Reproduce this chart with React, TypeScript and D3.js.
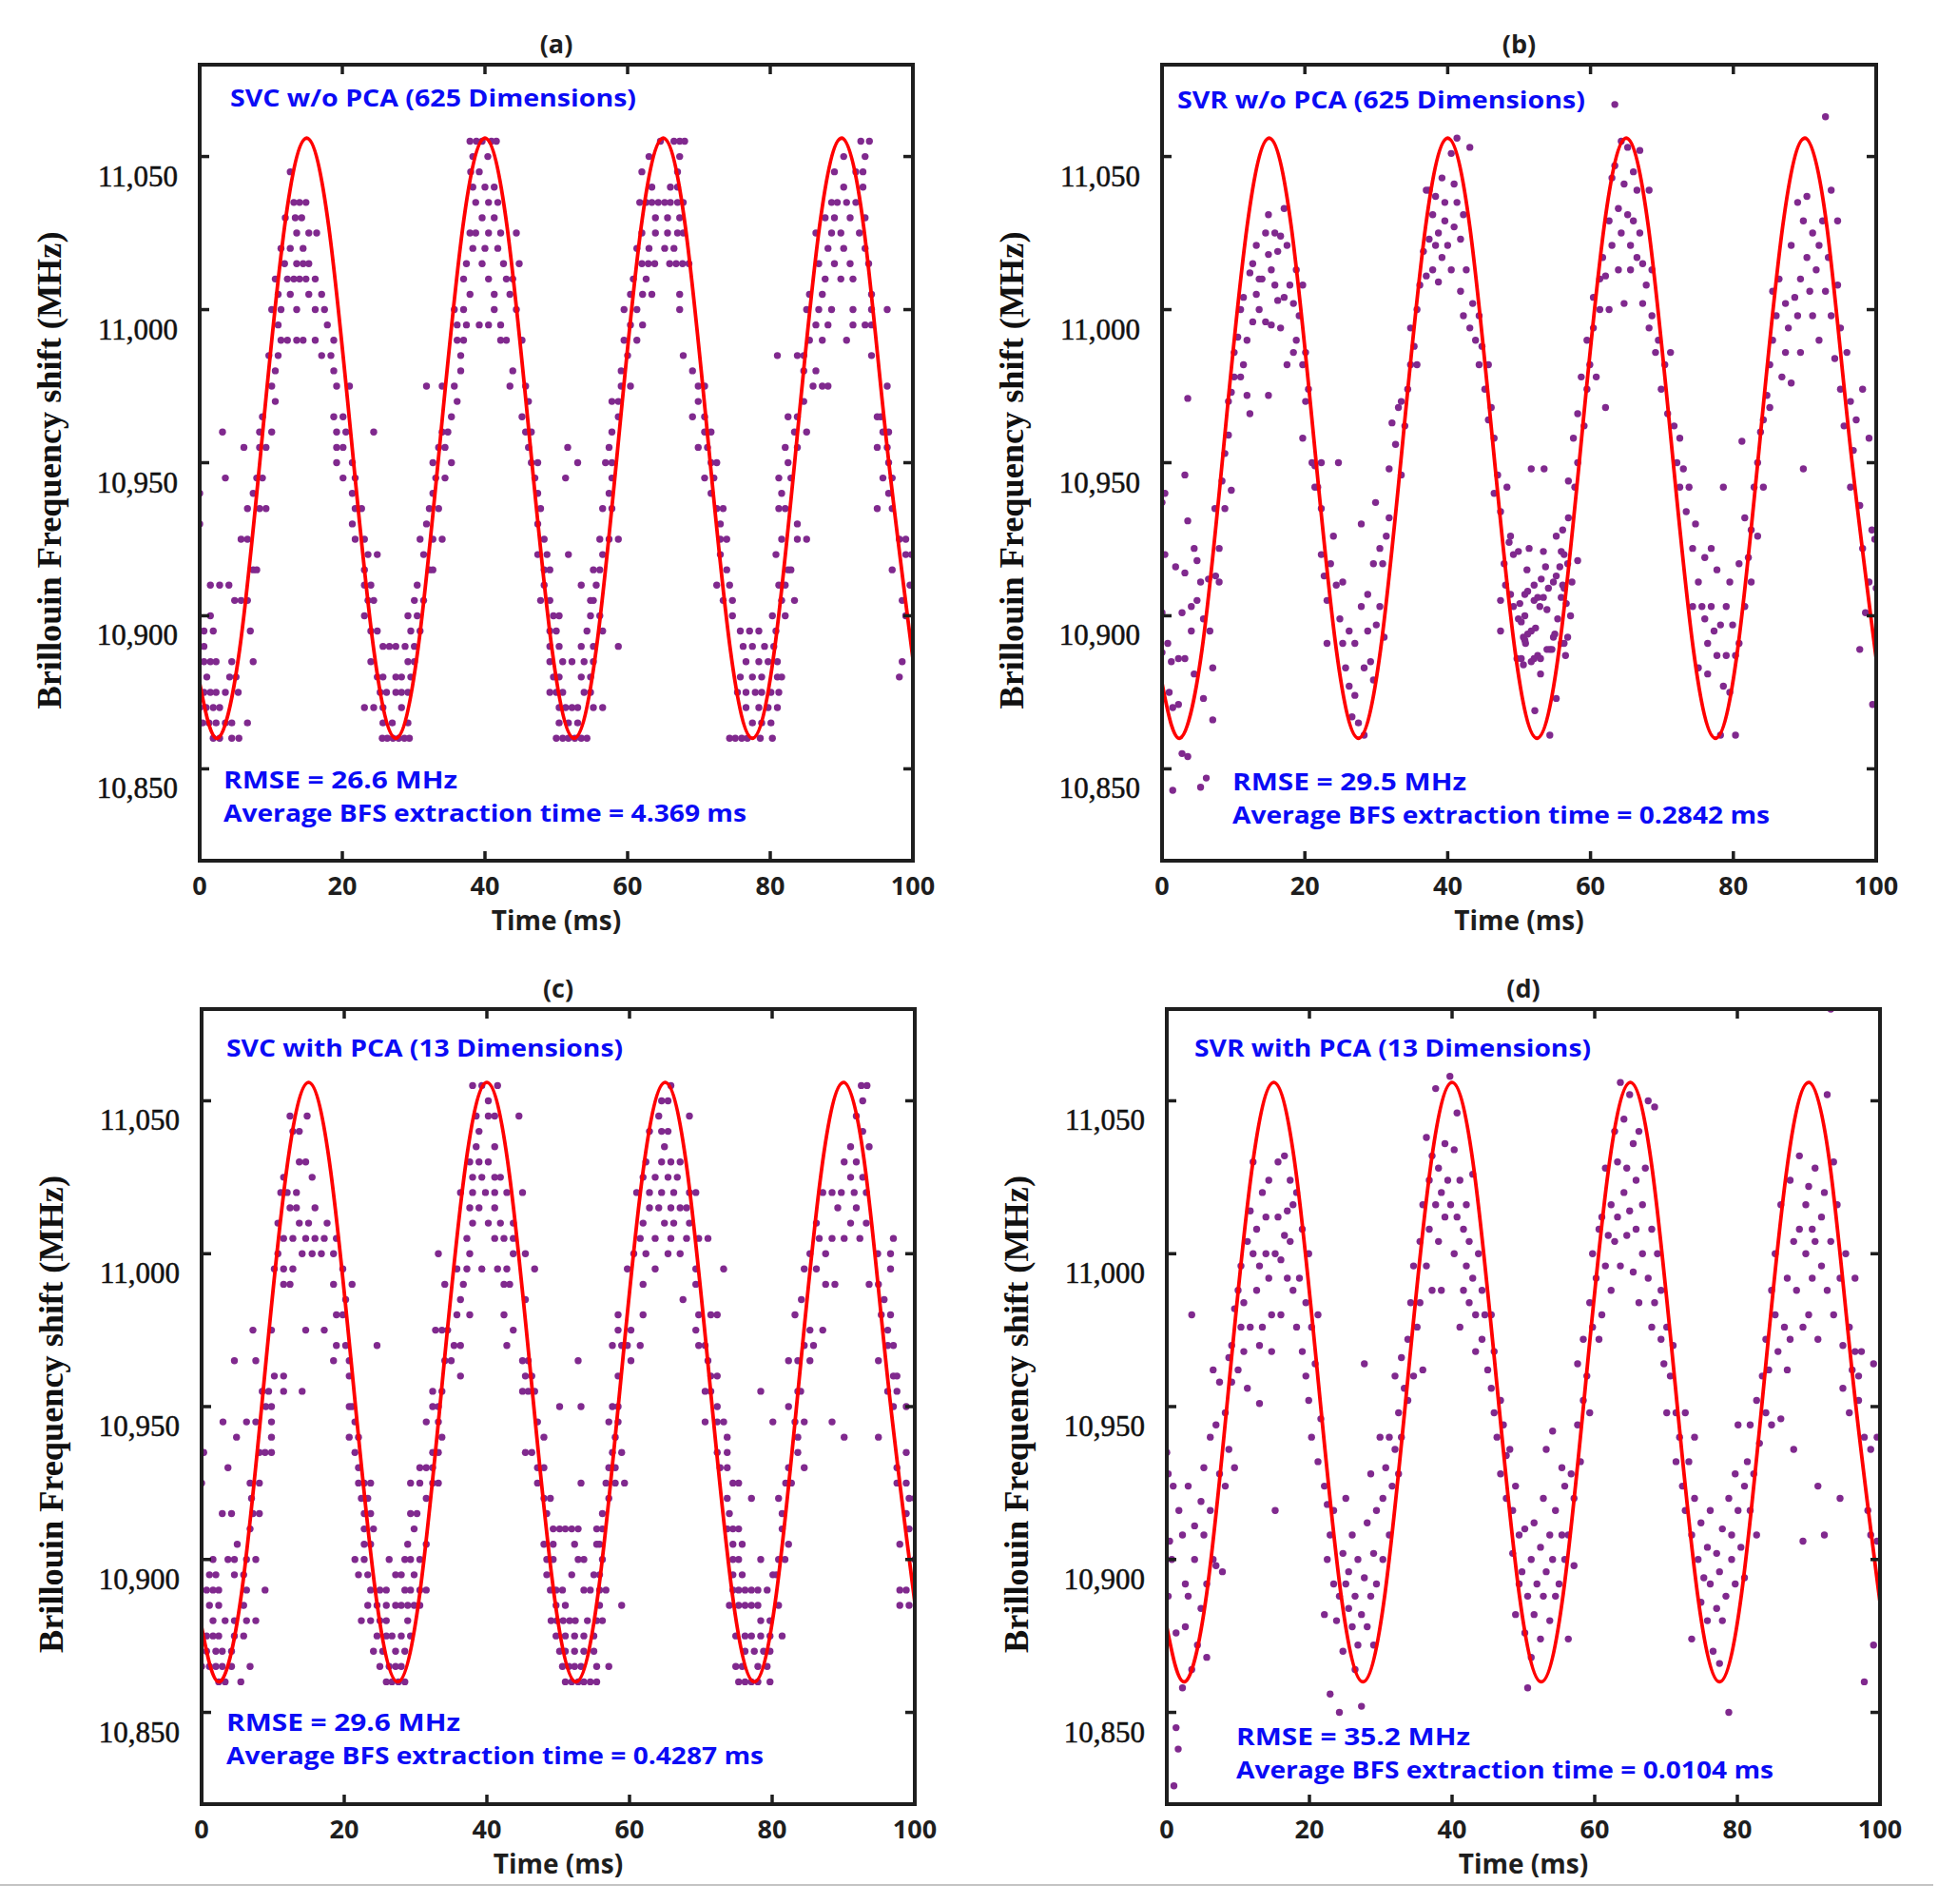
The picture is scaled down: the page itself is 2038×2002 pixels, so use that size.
import * as d3 from 'd3'

// axis ticks
const timeTicks = [0, 20, 40, 60, 80, 100]
const bfsTicks = [10850, 10900, 10950, 11000, 11050]
const timeDomain = [0, 100]
const bfsDomain = [10820, 11080]

// fitted reference curve, read at peaks / troughs / mid points
const fitTimes = [0, 2.5, 5.6, 8.75, 11.9, 15, 18.1, 21.25, 24.4, 27.5, 30.6, 33.75, 36.9, 40, 43.1, 46.25, 49.4, 52.5, 55.6, 58.75, 61.9, 65, 68.1, 71.25, 74.4, 77.5, 80.6, 83.75, 86.9, 90, 93.1, 96.25, 100]
const fitValues = [10878, 10860, 10889, 10958, 11027, 11056, 11027, 10958, 10889, 10860, 10889, 10958, 11027, 11056, 11027, 10958, 10889, 10860, 10889, 10958, 11027, 11056, 11027, 10958, 10889, 10860, 10889, 10958, 11027, 11056, 11027, 10958, 10886]

// (a) SVC w/o PCA: classified levels (MHz) and the times (ms) where they occur
const svcNoPcaRows: [number, number[]][] = [
  [11055, [37.9, 38.8, 39.6, 40.9, 41.6, 64.6, 66.5, 67.3, 68, 92.7, 93.9]],
  [11050, [38.3, 40.4, 63, 67.3, 90.3, 93.3]],
  [11045, [12.7, 38, 39.2, 62, 67, 89, 92, 93]],
  [11040, [38.3, 40, 41.3, 63.4, 66, 67, 90.3, 93]],
  [11035, [13.2, 14, 14.9, 38.7, 40.5, 41.8, 61.7, 62.6, 63.4, 64.3, 65.2, 66, 67, 67.8, 88.6, 89.4, 90.7, 92]],
  [11030, [12, 13.4, 14.3, 39.6, 41.3, 63.9, 65.6, 67.3, 87.7, 89, 91.2, 93.3]],
  [11025, [13.6, 15.3, 16.4, 37.9, 38.7, 40.5, 42.2, 44.4, 62, 63.9, 65.6, 67, 67.8, 86.4, 88.6, 89.9, 92.5]],
  [11020, [11.4, 12.7, 14.5, 38.3, 40, 41.8, 61.3, 63, 65.2, 66.5, 88.1, 90.3, 93.3]],
  [11015, [11.9, 13.6, 14.5, 15.3, 37.4, 39.6, 42.6, 44.8, 62, 62.9, 63.8, 65.9, 66.8, 67.7, 68.6, 86.8, 89, 91.2, 93.8]],
  [11010, [10.6, 12.3, 13.2, 14, 14.9, 16.2, 37, 40.5, 43, 43.9, 60.8, 62.6, 87.7, 89.9, 91.6]],
  [11005, [11, 12.7, 15.3, 17.1, 37.9, 41.3, 43.5, 60.4, 62.1, 63.4, 67.3, 85.5, 87.3, 94.2]],
  [11000, [10.1, 11.4, 13.6, 16.2, 17.5, 35.7, 37, 41.3, 44.4, 59.5, 61.3, 67.3, 85.1, 86.8, 88.6, 91.6, 94.2, 96.4]],
  [10995, [11, 17.9, 36.1, 37.4, 39.2, 40.5, 42.2, 60.4, 62.1, 86.4, 88.1, 91.6, 93.3, 94.2]],
  [10990, [11.4, 12.3, 13.6, 14.5, 16.2, 18.8, 36.1, 37, 42.2, 43, 45.2, 59.5, 61.3, 85.5, 87.3, 90.7]],
  [10985, [9.7, 11, 17.1, 18.4, 36.6, 60, 67.8, 81, 83.8, 84.7, 94.2]],
  [10980, [10.6, 18.8, 36.6, 43.9, 59.1, 69.1, 84.7, 86.4]],
  [10975, [10.1, 19.2, 21, 31.8, 34, 35.7, 43.5, 45.7, 59.1, 60.4, 69.9, 70.8, 86, 87.3, 88.1, 96.4]],
  [10970, [10.6, 36.1, 46.1, 57.8, 58.7, 69.9, 84.7]],
  [10965, [8.8, 18.8, 20.1, 35.3, 45.2, 58.7, 69.1, 70.8, 82.5, 83.8, 95, 95.5]],
  [10960, [3.2, 8.4, 10.1, 19.2, 20.5, 24.4, 34, 34.8, 45.7, 46.5, 57.8, 70.8, 71.7, 83.4, 85.1, 95.8, 96.6]],
  [10955, [6.2, 8.4, 9.3, 19.2, 20.1, 33.5, 34.4, 46.1, 51.6, 57.4, 69.9, 71.2, 82.1, 83.8, 95, 96.4]],
  [10950, [19.2, 21.4, 32.7, 35.3, 46.5, 47.4, 53, 56.9, 57.8, 71.7, 72.5, 82.5, 96.6]],
  [10945, [3.6, 8, 8.8, 20.1, 21.8, 33.1, 34.4, 47, 51.3, 57.8, 70.8, 72.1, 81.2, 82.9, 95.8, 97.1]],
  [10940, [0, 7.5, 21.4, 32.7, 47.4, 57.4, 71.7, 81.6, 96.6]],
  [10935, [6.7, 8.4, 9.3, 21.8, 22.7, 32.2, 33.5, 47.8, 56.5, 57.8, 72.5, 73.4, 81.2, 82.1, 95, 97.1]],
  [10930, [0, 21.4, 31.8, 47.4, 73, 83.8]],
  [10925, [5.8, 6.7, 21.8, 23.1, 30.9, 32.7, 34, 48.3, 56.1, 57.4, 58.7, 73, 73.9, 81.6, 83.8, 85.1, 98.1, 99]],
  [10920, [23.6, 24.9, 31.4, 47.4, 48.7, 51.7, 56.5, 73, 80.8, 99, 99.8]],
  [10915, [7.5, 8, 23.1, 32.2, 32.7, 48.3, 49.1, 55.2, 56.1, 73.9, 82.5, 82.9, 97.1]],
  [10910, [1.5, 2.8, 4.1, 23.1, 24, 30.5, 48.3, 53.5, 55.6, 72.5, 74.3, 81.2, 82.1, 99.6]],
  [10905, [4.9, 5.8, 6.7, 23.6, 24.4, 30.1, 31.4, 47.8, 49.1, 54.8, 55.2, 73.4, 74.7, 81.6, 83.4, 98.5]],
  [10900, [1.5, 23.1, 29.2, 30.5, 49.6, 50.4, 54.8, 56.1, 74.7, 80.3, 82.1, 99]],
  [10895, [0.6, 1.9, 7.1, 24, 24.9, 29.6, 30.9, 49.1, 50, 54.3, 56.5, 75.8, 77.1, 78.4, 80.8]],
  [10890, [0.6, 25.7, 26.6, 27.5, 28.8, 30.1, 49.1, 50.4, 53.5, 55.2, 58.7, 76.2, 77.5, 79.2, 80.5]],
  [10885, [0.6, 1.5, 2.3, 4.5, 7.5, 24, 29.2, 30.1, 49.1, 50.9, 52.2, 53.9, 55.2, 76.6, 78.4, 79.7, 81, 98.5]],
  [10880, [1, 4.2, 5.1, 24.9, 25.7, 27.5, 28.3, 29.6, 49.6, 50.4, 53.5, 54.8, 75.8, 77.5, 78.8, 81, 81.6, 98.1]],
  [10875, [0.6, 1.5, 2.3, 3.6, 5.4, 25.3, 26.2, 27.5, 28.3, 29.2, 49.1, 50, 50.9, 53.9, 54.8, 75.4, 76.6, 77.9, 78.8, 80.1, 81.2]],
  [10870, [0, 0.9, 1.9, 2.8, 23.1, 24.4, 25.7, 28.3, 50.4, 51.3, 52.2, 53, 55.2, 56.5, 76.6, 78.4, 79.7, 81]],
  [10865, [0.4, 1.3, 2.3, 3.6, 4.5, 6.7, 25.7, 27, 29.2, 50.4, 51.7, 53, 77.5, 78.8, 80.1]],
  [10860, [1.9, 2.8, 4.5, 5.5, 25.6, 26.3, 27.1, 27.9, 28.7, 29.4, 50, 50.9, 51.7, 52.6, 53.5, 54.3, 74.3, 75.1, 76, 76.8, 78.6, 80.3]],
]

// (c) SVC with PCA
const svcPcaRows: [number, number[]][] = [
  [11055, [38, 39.3, 41.5, 65.8, 92.5, 93.3]],
  [11050, [40.2, 64.5, 65.4, 92.7]],
  [11045, [12.4, 14.8, 38.5, 40.2, 41.1, 44.5, 64.1, 68.4, 91.8]],
  [11040, [12.8, 13.7, 38.9, 62.8, 64.5, 65.4, 92.7]],
  [11035, [38.5, 41.1, 64.9, 91, 93.6]],
  [11030, [13.7, 14.6, 37.6, 38.9, 40.2, 62.3, 64.5, 65.8, 67.1, 90.1, 91.8]],
  [11025, [11.5, 15.5, 38, 39.3, 41.1, 41.9, 61.9, 63.6, 65.4, 66.7, 91, 92.7]],
  [11020, [11.1, 12, 13.3, 36.3, 38, 39.8, 41.1, 42.8, 45, 61, 62.8, 64.5, 66.2, 68.4, 69.3, 87.1, 88.4, 89.7, 91.5, 93.2]],
  [11015, [12.4, 13.3, 15.9, 37.6, 38.9, 41.1, 62.8, 64.1, 65.8, 67.1, 68, 89.2, 91.8]],
  [11010, [10.7, 13.7, 15, 17.6, 38, 40.2, 41.9, 43.7, 61.9, 64.9, 66.2, 68.4, 86.2, 91, 93.2]],
  [11005, [11.5, 12.8, 14.6, 15.9, 17.2, 18.9, 37.2, 41.1, 42.4, 43.7, 61.5, 63.6, 65.8, 68, 69.7, 71, 86.6, 88.4, 90.1, 92.3, 97]],
  [11000, [10.7, 14.1, 15.5, 16.8, 18.5, 33.2, 37.6, 43.7, 45.4, 60.6, 62.3, 65.4, 67.1, 85.3, 87.5, 94.8, 96.6]],
  [10995, [10.2, 11.5, 12.8, 19.8, 35.8, 37.2, 39.3, 41.5, 42.8, 46.7, 59.7, 63.6, 69.3, 73.2, 84.5, 86.2, 96.6]],
  [10990, [11.5, 12.4, 18.5, 21.1, 34.1, 36.7, 42.4, 43.2, 61.9, 69.3, 87.5, 88.8, 93.6, 94.9]],
  [10985, [20.2, 36.3, 45.4, 67.5, 84.1, 95.7]],
  [10980, [18.9, 19.8, 35.8, 37.6, 42.4, 58.4, 61.9, 69.7, 71.4, 72.3, 83.2, 95.3, 96.6]],
  [10975, [7.2, 9.8, 14.6, 17.2, 32.8, 33.7, 34.5, 43.7, 58.4, 60.2, 69.3, 85.3, 87.1, 96.2]],
  [10970, [18.9, 20.2, 24.6, 35.4, 36.3, 42.8, 57.6, 58.9, 59.7, 61.5, 69.7, 70.6, 84.5, 85.8, 96.2, 97]],
  [10965, [4.6, 7.6, 18.5, 20.7, 34.1, 35, 45, 45.8, 52.8, 60.2, 71, 82.3, 83.6, 85.3, 94.9]],
  [10960, [10.2, 11.5, 20.7, 36.3, 45.4, 46.3, 58.4, 71.4, 72.3, 97, 97.5]],
  [10955, [8.5, 9.4, 11.5, 14.1, 32.4, 33.7, 45, 45.8, 46.7, 70.6, 71.4, 78.4, 83.6, 84, 96.2, 97.5]],
  [10950, [9, 9.8, 20.7, 21.1, 32.4, 33.2, 50.2, 53.2, 57.6, 58.4, 72.3, 82.3, 97, 98.8]],
  [10945, [3, 6.3, 7.6, 9.8, 21.5, 31.5, 33.2, 47.1, 57.1, 58.4, 70.6, 72.3, 73.2, 80.1, 83.2, 84.5, 88.4]],
  [10940, [4.9, 9.8, 20.7, 22, 33.7, 48, 58, 73.7, 83.6, 90.1, 94.9]],
  [10935, [0.3, 8.1, 8.9, 9.8, 21.5, 32.4, 33.2, 45.4, 46.3, 57.6, 58.9, 72.3, 73.7, 83.6, 98.8]],
  [10930, [3.7, 22, 30.6, 31.5, 32.4, 47.1, 48, 57.1, 58, 72.7, 73.7, 82.3, 84.5, 97.5]],
  [10925, [0, 6.8, 8.1, 22, 22.8, 23.7, 29.3, 30.6, 32.4, 33.2, 47.1, 53.2, 56.7, 58, 59.3, 74.5, 75.3, 81.9, 82.7, 97.5, 98.8]],
  [10920, [7, 22.4, 23.3, 31.5, 48, 48.9, 57.1, 73.7, 77.1, 80.9, 99.2, 100]],
  [10915, [2.9, 4.2, 7.2, 8.1, 22.8, 23.7, 29.3, 30.2, 48.4, 56.2, 74, 81.4, 98.8]],
  [10910, [6.8, 22.8, 24.1, 29.8, 49.3, 50.2, 51, 51.9, 52.8, 55.4, 56.2, 73.7, 74.5, 75.3, 81.4, 99.2]],
  [10905, [5, 22.8, 23.7, 28.9, 31.5, 48, 49.3, 52.3, 55.4, 55.8, 74.5, 75.8, 82.3, 97.9]],
  [10900, [1.6, 3.7, 4.6, 6.3, 7.6, 21.5, 22.8, 26.3, 28.5, 29.3, 30.6, 48.4, 49.3, 52.8, 53.6, 56.2, 74.5, 75.3, 78.4, 80.9, 81.8, 100]],
  [10895, [1.1, 2, 4.6, 5.9, 22, 23.3, 27.2, 28, 29.8, 48.4, 51.9, 55, 55.8, 74.5, 75.8, 80.1, 80.6]],
  [10890, [0.7, 1.6, 2.4, 6.3, 8.9, 23.7, 25, 25.9, 28.5, 29.3, 30.6, 31.5, 48.9, 49.7, 50.6, 53.6, 54.5, 55.8, 56.7, 74.5, 75.3, 76.2, 77.1, 78, 79.3, 97.9, 98.8]],
  [10885, [1.1, 2.4, 5.9, 23.3, 24.6, 25.9, 27.2, 28, 28.9, 29.8, 30.6, 49.7, 51, 55.8, 58.9, 74, 75.3, 76.2, 77.1, 78, 80.9, 97.9, 99.2]],
  [10880, [1.6, 3.3, 4.6, 6.3, 7.6, 22.4, 23.7, 25, 25.9, 28.9, 49, 49.8, 50.7, 51.6, 52.4, 54.1, 55.4, 56.2, 78.4, 79.7]],
  [10875, [0.7, 1.6, 2.4, 4.6, 5.9, 24.6, 25.9, 26.7, 28, 29.3, 49.7, 51, 52.3, 53.6, 55, 74.9, 76.2, 77.1, 78.4, 79.7, 81.4]],
  [10870, [0.7, 2, 2.9, 4.2, 24.1, 25.4, 27.2, 28.5, 50.2, 51, 52.3, 53.6, 55, 76.2, 77.5, 78.8, 79.7]],
  [10865, [0, 1.1, 2, 2.9, 4.2, 6.8, 25, 26.3, 27.2, 28, 50.6, 51.5, 52.3, 53.2, 55.4, 57.1, 74.9, 75.8, 78, 79.3]],
  [10860, [2.4, 3.3, 5.5, 25.9, 26.7, 27.6, 28.5, 51, 51.9, 52.8, 53.6, 54.5, 55.4, 75.3, 76.2, 77.1, 78, 79.7]],
]

// (b) SVR w/o PCA: [time ms, BFS MHz]
const svrNoPca: [number, number][] = [
  [0, 10937], [0.4, 10940], [0.4, 10920], [0, 10901], [0, 10888], [0.8, 10891], [1.3, 10885], [1, 10875], [1.5, 10870], [1.9, 10916],
  [2.3, 10886], [2.3, 10871], [2.8, 10901], [2.8, 10855], [3.2, 10886], [3.2, 10914], [3.6, 10854], [3.6, 10971], [3.2, 10946], [4.1, 10903],
  [4.1, 10895], [4.5, 10922], [4.5, 10881], [4.9, 10918], [4.9, 10905], [5.4, 10911], [5.4, 10844], [5.8, 10899], [5.8, 10873], [6.2, 10847],
  [6.5, 10912], [6.7, 10895], [7.1, 10866], [7.1, 10883], [7.4, 10935], [7.5, 10913], [8, 10911], [8, 10922], [1.5, 10843], [3.6, 10931],
  [8.4, 10944], [8.8, 10935], [8.8, 10953], [9.3, 10959], [9.3, 10970], [9.7, 10941], [9.7, 10973], [10.1, 10986], [10.1, 10978], [10.6, 10991],
  [11, 10978], [11, 11000], [11.4, 10982], [11.4, 11004], [11.9, 10990], [11.9, 10972], [12.3, 11012], [12.3, 10966], [12.7, 10996], [12.7, 11015],
  [13.2, 11005], [13.2, 11021], [13.6, 11000], [13.6, 11010], [14, 11010], [14.5, 11025], [14.5, 10996], [14.9, 11031], [14.9, 10972], [14.9, 11018],
  [15.3, 11013], [15.3, 10995], [15.8, 11025], [15.8, 11008], [16.2, 11019], [16.2, 11003], [16.6, 11024], [16.6, 10994], [17.1, 11033], [17.1, 11004],
  [17.5, 11021], [17.5, 10982], [17.9, 11008], [18.4, 11002], [18.4, 10986], [18.8, 11013], [18.8, 10990], [19.2, 10998], [19.7, 11008], [19.7, 10982],
  [20.1, 10970], [20.1, 10986], [20.5, 10974], [19.7, 10958], [21, 10950], [21.4, 10942], [21.4, 10949], [21.8, 10942], [22.3, 10950],
  [22.3, 10935], [22.3, 10920], [22.7, 10913], [23.1, 10891], [23.1, 10905], [23.6, 10917], [24, 10926], [24.4, 10910], [24.7, 10950], [24.9, 10899],
  [25.3, 10911], [25.3, 10891], [25.7, 10883], [26.2, 10877], [26.2, 10895], [26.6, 10867], [27, 10874], [27, 10891], [27.5, 10865], [27.9, 10903],
  [27.9, 10930], [28.3, 10883], [28.3, 10861], [28.8, 10907], [28.8, 10895], [29.2, 10885], [29.6, 10879], [29.6, 10917], [30, 10897], [29.9, 10937],
  [30.5, 10903], [30.5, 10922], [30.9, 10917], [31.1, 10893], [31.4, 10926], [31.8, 10948], [31.8, 10932], [32.2, 10963], [32.7, 10956], [33.1, 10968],
  [33.5, 10946], [33.5, 10970], [34, 10962], [34.4, 10974], [34.8, 10982], [34.8, 10994], [35.3, 10988], [35.7, 10982], [35.7, 11000], [36.1, 11008],
  [36.6, 11019], [37, 11011], [37, 11039], [37.4, 11023], [37.4, 11039], [37.9, 11031], [37.9, 11013], [38.3, 11021], [38.3, 11037], [38.7, 11025],
  [38.7, 11009], [39.2, 11043], [39.2, 11017], [39.6, 11029], [39.6, 11035], [40, 11021],
  [40.5, 11051], [40.5, 11013], [40.9, 11041], [40.9, 11027], [41.3, 11056], [41.3, 11035], [41.8, 11023], [41.8, 11006], [42.2, 11031], [42.2, 10998],
  [42.6, 11013], [43.1, 11053], [43.1, 10994], [43.5, 11002], [43.9, 10990], [44.4, 10998], [44.4, 10982], [44.8, 10988], [45.2, 10974], [45.7, 10982],
  [45.7, 10964], [46.1, 10968], [46.5, 10958], [46.5, 10940], [47, 10946], [47.4, 10934], [48.3, 10942], [51.7, 10948], [52.2, 10869], [53.5, 10948],
  [54.3, 10861], [55.2, 10873], [56.1, 10928], [56.9, 10944], [56.9, 10932], [57.6, 10958], [57.8, 10942],
  [48.8, 10926], [55.2, 10926], [48.6, 10924], [49.9, 10921], [51.4, 10922], [49.2, 10920], [53.4, 10921], [55.9, 10921], [56.3, 10920], [58.2, 10918],
  [47.9, 10917], [56.8, 10917], [53.7, 10916], [55.7, 10916], [51.1, 10915], [55.2, 10913], [53.1, 10912], [54.8, 10911], [48.1, 10910], [52.1, 10910],
  [56.1, 10910], [54.1, 10909], [56.3, 10909], [48.8, 10907], [51.2, 10908], [50.8, 10907], [52.6, 10906], [53.4, 10906], [47.4, 10905], [55.9, 10906],
  [52.1, 10905], [50.1, 10904], [49.2, 10903], [56.6, 10904], [52.9, 10903], [53.9, 10902], [50.8, 10900], [49.9, 10899], [57.2, 10900], [55.4, 10899],
  [50.3, 10898], [47.4, 10895], [52.3, 10896], [51.7, 10895], [51.2, 10894], [55, 10894], [50.6, 10893], [54.8, 10893], [50.8, 10892], [56.8, 10893],
  [55.9, 10891], [56.3, 10891], [54.3, 10889], [54.6, 10889], [49.7, 10886], [50.3, 10886], [52.6, 10887], [52.1, 10886], [53, 10886], [50.6, 10884],
  [53, 10881], [53.9, 10889], [56.5, 10887], [51.7, 10885], [50.9, 10891],
  [57.4, 10911], [58.2, 10966], [58.2, 10950], [58.7, 10978], [59.1, 10962], [59.5, 10990], [59.5, 10974], [59.9, 10982], [60.4, 11004], [60.4, 10994],
  [60.8, 10978], [61.3, 11010], [61.3, 11000], [61.7, 11017], [62.1, 11011], [62.1, 10968], [62.6, 11029], [62.6, 11000], [63, 11043], [63, 11021],
  [63.4, 11047], [63.4, 11067], [63.9, 11033], [63.9, 11013], [64.3, 11055], [64.3, 11025], [64.7, 11041], [64.7, 11002],
  [65.2, 11031], [65.2, 11053], [65.6, 11021], [65.6, 11013], [66, 11045], [66, 11029], [66.5, 11039], [66.5, 11017], [66.9, 11025], [66.9, 11052],
  [67.3, 11015], [67.3, 11002], [67.8, 11008], [68.2, 11039], [68.2, 10994], [68.6, 10998], [68.6, 11013], [69.1, 10986], [69.5, 10990], [69.9, 10974],
  [70.4, 10982], [70.8, 10966], [71.2, 10986], [71.7, 10962], [72.1, 10950], [72.5, 10942], [72.5, 10958], [73, 10948], [73.4, 10934], [73.8, 10942],
  [74.3, 10922], [74.3, 10903], [74.7, 10930], [75.1, 10883], [75.1, 10911], [75.6, 10903], [76, 10899], [76, 10919], [76.4, 10891], [76.4, 10881],
  [76.9, 10903], [76.9, 10922], [77.3, 10895], [77.7, 10887], [77.7, 10915], [78.2, 10861], [78.2, 10897],
  [78.6, 10877], [78.6, 10942], [79, 10903], [79, 10887], [79.5, 10911], [79.5, 10875], [79.9, 10897], [80.3, 10861], [80.3, 10887], [80.8, 10891],
  [80.8, 10917], [81.2, 10957], [81.6, 10932], [81.6, 10903], [82.1, 10919], [82.5, 10928], [82.5, 10911], [82.9, 10942], [83.4, 10926], [83.4, 10950],
  [83.8, 10960], [84.2, 10942], [84.2, 10964], [84.7, 10972], [85.1, 10982], [85.1, 10968], [85.5, 11006], [85.5, 10990], [86, 10998], [86.4, 11010],
  [86.8, 10978], [87.3, 11002], [87.3, 10986], [87.7, 10994], [88.1, 10976], [88.1, 11021], [88.6, 11004], [89, 11035], [89, 10998], [89.4, 11010],
  [89.4, 10986], [89.8, 10948], [89.8, 11029],
  [90.3, 11017], [90.3, 11037], [90.7, 11006], [91.1, 10998], [91.1, 11025], [91.6, 11013], [92, 11021], [92, 10990], [92.5, 11029], [92.9, 11063],
  [92.9, 11006], [93.3, 11017], [93.7, 10998], [93.7, 11039], [94.2, 10984], [94.6, 11029], [94.6, 11008], [95, 10974], [95, 10994], [95.5, 10962],
  [95.9, 10986], [96.4, 10970], [96.4, 10942], [96.8, 10954], [97.2, 10964], [97.7, 10936], [98.1, 10974], [98.1, 10922], [98.5, 10901], [99, 10958],
  [99, 10911], [99.4, 10928], [99.5, 10871], [99.8, 10925], [100, 10909], [97.7, 10889],
]

// (d) SVR with PCA: [time ms, BFS MHz]
const svrPca: [number, number][] = [
  [0, 10935], [0.2, 10928], [0.2, 10888], [0.4, 10906], [0.7, 10900], [0.9, 10924], [1.3, 10876], [1.3, 10845], [1.6, 10838], [1, 10826],
  [1.7, 10916], [2.2, 10908], [2.2, 10858], [2.6, 10892], [2.6, 10878], [3, 10924], [3, 10888], [3.5, 10980], [3.5, 10864], [3.9, 10911],
  [3.9, 10900], [4.3, 10872], [4.8, 10919], [4.8, 10884], [5.2, 10908], [5.2, 10930], [5.6, 10892], [5.6, 10868], [6.1, 10916], [6.1, 10940],
  [6.5, 10962], [6.5, 10900], [6.9, 10898], [6.9, 10944], [7.4, 10928], [7.4, 10958], [7.8, 10896],
  [8.2, 10948], [8.2, 10924], [8.7, 10966], [8.7, 10936], [9.1, 10958], [9.1, 10970], [9.5, 10930], [9.5, 10982], [10, 10962], [10, 10988],
  [10.4, 10976], [10.4, 10996], [10.8, 10968], [10.8, 10984], [11.3, 11004], [11.3, 10956], [11.7, 11014], [11.7, 10976], [12.1, 11000], [12.1, 11030],
  [12.6, 10988], [12.6, 11008], [13, 10996], [13, 10970], [13, 10951], [13.4, 11020], [13.4, 10976], [13.9, 11000], [13.9, 11012], [14.3, 10992],
  [14.3, 11024], [14.7, 10980], [14.7, 10968], [15.2, 10916], [15.2, 11000],
  [15.6, 11030], [15.6, 11012], [16, 10998], [16, 10980], [16.5, 11032], [16.5, 11006], [16.9, 11014], [16.9, 10992], [17.3, 11024], [17.3, 11004],
  [17.7, 10988], [17.7, 11016], [18.2, 10976], [18.2, 11020], [18.6, 10992], [19, 11008], [19, 10968], [19.5, 10984], [19.5, 10960], [19.9, 10952],
  [19.9, 11000], [20.3, 10976], [20.3, 10940], [20.8, 10964], [21.2, 10980], [21.2, 10932], [21.6, 10946], [22.1, 10924], [22.1, 10882],
  [22.5, 10918], [22.5, 10900], [22.9, 10908], [22.9, 10856], [23.4, 10892], [23.4, 10916], [23.8, 10880], [24.2, 10888], [24.2, 10850], [24.7, 10902],
  [24.7, 10870], [25.1, 10892], [25.1, 10920], [25.5, 10884], [25.5, 10896], [26, 10878], [26, 10908], [26.4, 10888], [26.4, 10864], [26.8, 10900],
  [26.8, 10872], [27.3, 10852], [27.3, 10882], [27.7, 10964], [27.7, 10894], [28.1, 10912], [28.1, 10878], [28.6, 10888], [28.6, 10928], [29, 10902],
  [29, 10872], [29.4, 10892], [29.4, 10916], [29.9, 10940], [30.3, 10920], [30.3, 10900],
  [30.7, 10930], [31.2, 10908], [31.2, 10940], [31.6, 10924], [32, 10960], [32, 10936], [32.5, 10948], [32.5, 10928], [32.9, 10966], [32.9, 10940],
  [33.3, 10956], [33.8, 10972], [33.8, 10952], [34.2, 10984], [34.6, 10960], [34.6, 10996], [35.1, 10976], [35.5, 11004], [35.5, 10984], [35.9, 10962],
  [35.9, 11016], [36.4, 10996], [36.4, 11038], [36.8, 11024], [36.8, 11008], [37.2, 10988], [37.2, 11032], [37.7, 11016], [37.7, 11054], [38.1, 11004],
  [38.1, 11028], [38.5, 11020], [38.5, 10988], [39, 11036], [39, 11012], [39.4, 11024], [39.7, 11058],
  [39.8, 11016], [40.3, 11034], [40.3, 11000], [40.7, 11046], [40.7, 11012], [41.1, 11024], [41.1, 10976], [41.6, 11008], [41.6, 10988], [42, 11016],
  [42, 10996], [42.4, 10984], [42.4, 11004], [42.9, 11026], [42.9, 10992], [43.3, 10980], [43.3, 10968], [43.7, 11000], [44.2, 10988], [44.2, 10972],
  [44.6, 10980], [45, 10962], [45.5, 10980], [45.5, 10956], [45.9, 10948], [45.9, 10968], [46.3, 10940], [46.8, 10952], [46.8, 10928], [47.2, 10944],
  [47.6, 10920], [47.6, 10934], [48.1, 10936], [48.5, 10916], [48.5, 10902], [48.9, 10924], [48.9, 10882], [49.4, 10908], [49.4, 10892], [49.8, 10896],
  [50.2, 10910], [50.2, 10876], [50.6, 10888], [50.6, 10858], [51.1, 10900], [51.1, 10868],
  [51.5, 10882], [51.5, 10912], [51.9, 10892], [52.4, 10904], [52.4, 10874], [52.8, 10920], [52.8, 10888], [53.2, 10896], [53.2, 10936], [53.7, 10880],
  [53.7, 10908], [54.1, 10900], [54.1, 10942], [54.5, 10916], [54.5, 10888], [55, 10892], [55.4, 10930], [55.4, 10908], [55.8, 10900], [55.8, 10924],
  [56.3, 10874], [56.3, 10908], [56.7, 10928], [57.1, 10898], [57.1, 10920], [57.6, 10944], [57.6, 10964], [58, 10932], [58.4, 10972], [58.4, 10952],
  [58.9, 10960], [59.3, 10984], [59.3, 10948], [59.7, 10976], [59.7, 11000], [60.2, 10992], [60.6, 11008], [60.6, 10972], [61, 10980], [61, 11012],
  [61.5, 10996], [61.5, 11028], [61.9, 11006], [62.3, 11016], [62.3, 10988], [62.8, 11040], [62.8, 11004], [63.2, 11030], [63.2, 11012], [63.6, 11056],
  [63.6, 10996], [64.1, 11044], [64.1, 11020],
  [64.5, 11028], [64.5, 11006], [64.9, 11052], [64.9, 11014], [65.4, 11036], [65.4, 10994], [65.8, 11024], [65.8, 11008], [66.2, 11040], [66.2, 10984],
  [66.7, 11016], [66.7, 11000], [67.1, 11028], [67.5, 10992], [67.5, 11050], [68, 11008], [68, 10976], [68.4, 10984], [68.4, 11048], [68.8, 11000],
  [69.3, 10972], [69.3, 10988], [69.7, 10964], [70.1, 10976], [70.1, 10948], [70.6, 10960], [71, 10970], [71.4, 10948], [71.4, 10932], [71.9, 10940],
  [72.3, 10924], [72.7, 10948], [72.7, 10916], [73.2, 10932], [73.6, 10908], [73.6, 10874], [74, 10940], [74, 10920], [74.5, 10900], [74.9, 10912],
  [74.9, 10886], [75.3, 10894], [75.8, 10904], [75.8, 10880], [76.2, 10916], [76.2, 10892], [76.6, 10870], [77.1, 10902], [77.1, 10884],
  [77.5, 10866], [77.5, 10896], [77.9, 10910], [77.9, 10880], [78.4, 10888], [78.8, 10850], [78.8, 10920], [79.2, 10900], [79.2, 10908], [79.7, 10928],
  [79.7, 10892], [80.1, 10916], [80.1, 10944], [80.5, 10904], [81, 10924], [81, 10894], [81.4, 10932], [81.8, 10916], [81.8, 10944], [82.3, 10928],
  [82.7, 10952], [82.7, 10908], [83.1, 10938], [83.5, 10960], [84, 10948], [84, 10972], [84.4, 10962], [84.8, 10988], [84.8, 10944], [85.3, 10980],
  [85.3, 11000], [85.7, 10968], [86.1, 11016], [86.1, 10946], [86.6, 10976], [87, 10992], [87, 10962], [87.4, 10972], [87.4, 11024], [87.9, 11004],
  [87.9, 10936], [88.3, 10988], [88.7, 11008], [88.7, 11032], [89.2, 10976], [89.2, 10906],
  [89.6, 11000], [89.6, 11016], [90, 10980], [90, 11022], [90.5, 10992], [90.5, 11008], [90.9, 11028], [90.9, 11004], [91.3, 10972], [91.3, 10924],
  [91.8, 11012], [91.8, 10996], [92.2, 11020], [92.2, 10908], [92.6, 11052], [92.6, 10988], [93.1, 11080], [93.1, 11004], [93.5, 11030], [93.5, 10980],
  [94, 11016], [94.4, 10992], [94.4, 10920], [94.8, 10970], [94.8, 10956], [95.2, 11000], [95.7, 10976], [95.7, 10948], [96.1, 10962], [96.5, 10992],
  [96.5, 10968], [97, 10960], [97, 10952], [97.4, 10968], [97.8, 10940], [97.8, 10860], [98.3, 10916], [98.7, 10936], [98.7, 10908], [99.1, 10964],
  [99.1, 10872], [99.6, 10940], [99.6, 10906],
]

const panelTitles = ['(a)', '(b)', '(c)', '(d)']
const methodLabels = [
  'SVC w/o PCA (625 Dimensions)',
  'SVR w/o PCA (625 Dimensions)',
  'SVC with PCA (13 Dimensions)',
  'SVR with PCA (13 Dimensions)',
]
const rmseLabels = ['RMSE = 26.6 MHz', 'RMSE = 29.5 MHz', 'RMSE = 29.6 MHz', 'RMSE = 35.2 MHz']
const timeLabels = [
  'Average BFS extraction time = 4.369 ms',
  'Average BFS extraction time = 0.2842 ms',
  'Average BFS extraction time = 0.4287 ms',
  'Average BFS extraction time = 0.0104 ms',
]

const rowsToPoints = (rows: [number, number[]][]) =>
  rows.flatMap(([f, ts]) => ts.map(t => [t, f] as [number, number]))

const panelPoints = [rowsToPoints(svcNoPcaRows), svrNoPca, rowsToPoints(svcPcaRows), svrPca]

const layout = [
  { left: 210, right: 960, top: 68, bottom: 905, mx: 242, my: 112, nx: 235, ny: 829, mw: 427, tw: 550 },
  { left: 1222, right: 1973, top: 68, bottom: 905, mx: 1238, my: 114, nx: 1296, ny: 831, mw: 429, tw: 565 },
  { left: 212, right: 962, top: 1061, bottom: 1897, mx: 238, my: 1111, nx: 238, ny: 1820, mw: 417, tw: 565 },
  { left: 1227, right: 1977, top: 1061, bottom: 1897, mx: 1256, my: 1111, nx: 1300, ny: 1835, mw: 417, tw: 565 },
]

const SANS = "'Open Sans', 'DejaVu Sans', sans-serif"
const SERIF = "'Liberation Serif', 'DejaVu Serif', serif"
const BLUE = '#0b0bf5'
const DOT = '#80298e'

function Panel({ i }: { i: number }) {
  const L = layout[i]
  const x = d3.scaleLinear().domain(timeDomain).range([L.left, L.right])
  const y = d3.scaleLinear().domain(bfsDomain).range([L.bottom, L.top])
  const fit = d3.line<number>()
    .x((_, k) => x(fitTimes[k]))
    .y(v => y(v))
    .curve(d3.curveNatural)(fitValues)
  const tick = 10
  const innerX = timeTicks.filter(t => t > timeDomain[0] && t < timeDomain[1])
  const cx = (L.left + L.right) / 2
  const cy = (L.top + L.bottom) / 2

  return (
    <g>
      <g clipPath={`url(#clip${i})`}>
        {panelPoints[i].map(([t, f], k) => (
          <circle key={k} cx={x(t)} cy={y(f)} r={3.7} fill={DOT} />
        ))}
        <path d={fit ?? ''} fill="none" stroke="#ff0000" strokeWidth={3.8} />
      </g>

      <rect x={L.left} y={L.top} width={L.right - L.left} height={L.bottom - L.top}
        fill="none" stroke="#1e1e1e" strokeWidth={4} />

      {innerX.map(t => (
        <g key={t} stroke="#1e1e1e" strokeWidth={3.5}>
          <line x1={x(t)} x2={x(t)} y1={L.bottom} y2={L.bottom - tick} />
          <line x1={x(t)} x2={x(t)} y1={L.top} y2={L.top + tick} />
        </g>
      ))}
      {bfsTicks.map(f => (
        <g key={f} stroke="#1e1e1e" strokeWidth={3.5}>
          <line x1={L.left} x2={L.left + tick} y1={y(f)} y2={y(f)} />
          <line x1={L.right} x2={L.right - tick} y1={y(f)} y2={y(f)} />
        </g>
      ))}

      {timeTicks.map(t => (
        <text key={t} x={x(t)} y={L.bottom + 36} textAnchor="middle"
          fontFamily={SANS} fontWeight={700} fontSize={27} fill="#1e1e1e">{t}</text>
      ))}
      {bfsTicks.map(f => (
        <text key={f} x={L.left - 23} y={y(f) + 31} textAnchor="end" fontFamily={SERIF}
          fontSize={31} fill="#111" stroke="#111" strokeWidth={0.5}>{d3.format(',')(f)}</text>
      ))}

      <text x={cx} y={L.bottom + 73} textAnchor="middle" fontFamily={SANS}
        fontWeight={700} fontSize={28} fill="#1e1e1e">Time (ms)</text>
      <text transform={`translate(${L.left - 158},${cy + 8}) rotate(-90)`} textAnchor="middle"
        dominantBaseline="central" fontFamily={SERIF} fontWeight={700} fontSize={36}
        textLength={502} lengthAdjust="spacingAndGlyphs"
        fill="#111">Brillouin Frequency shift (MHz)</text>
      <text x={cx} y={L.top - 12} textAnchor="middle" fontFamily={SANS}
        fontWeight={700} fontSize={27} fill="#1e1e1e">{panelTitles[i]}</text>

      <text x={L.mx} y={L.my} fontFamily={SANS} fontWeight={700} fontSize={25} fill={BLUE}
        textLength={L.mw} lengthAdjust="spacingAndGlyphs">{methodLabels[i]}</text>
      <text x={L.nx} y={L.ny} fontFamily={SANS} fontWeight={700} fontSize={25} fill={BLUE}
        textLength={246} lengthAdjust="spacingAndGlyphs">{rmseLabels[i]}</text>
      <text x={L.nx} y={L.ny + 35} fontFamily={SANS} fontWeight={700} fontSize={25} fill={BLUE}
        textLength={L.tw} lengthAdjust="spacingAndGlyphs">{timeLabels[i]}</text>
    </g>
  )
}

export default function App() {
  return (
    <svg width={2038} height={2002} viewBox="0 0 2038 2002"
      style={{ position: 'absolute', left: 0, top: 0, background: '#fff' }}>
      <defs>
        {layout.map((L, i) => (
          <clipPath key={i} id={`clip${i}`}>
            <rect x={L.left} y={L.top} width={L.right - L.left} height={L.bottom - L.top} />
          </clipPath>
        ))}
      </defs>
      <rect x={0} y={0} width={2038} height={2002} fill="#fff" />
      {layout.map((_, i) => <Panel key={i} i={i} />)}
      <line x1={0} x2={2033} y1={1982} y2={1982} stroke="#c4c4c4" strokeWidth={2} />
    </svg>
  )
}
